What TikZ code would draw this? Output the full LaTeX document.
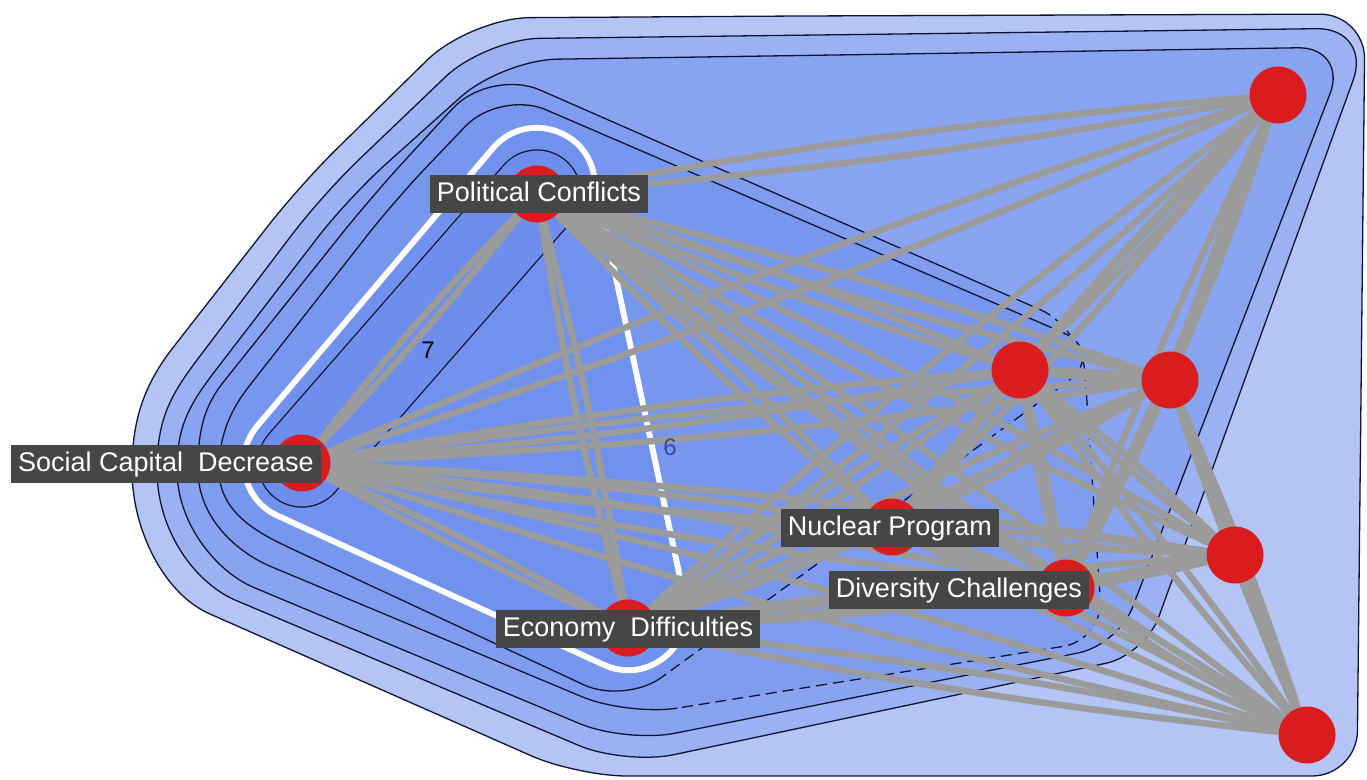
\documentclass[tikz,border=0pt]{standalone}
\usepackage{fontspec}
\setmainfont{Liberation Sans}
\usetikzlibrary{calc}
\pgfdeclarelayer{bg}
\pgfdeclarelayer{edgelayer}
\pgfsetlayers{bg,edgelayer,main}
\definecolor{cA}{HTML}{B4C5F5}
\definecolor{cB}{HTML}{9BB1F2}
\definecolor{cC}{HTML}{88A3F0}
\definecolor{cD}{HTML}{7F9CEF}
\definecolor{cE}{HTML}{7796EE}
\definecolor{cF}{HTML}{7191EE}
\definecolor{cG}{HTML}{6D8EED}
\definecolor{edgegray}{HTML}{9B9B9B}
\definecolor{nodered}{HTML}{DA1C1F}
\definecolor{lblbg}{HTML}{464646}
\definecolor{contourline}{HTML}{0E1433}
\definecolor{numblue}{HTML}{3A4A9A}
% rounded corner at vertex #2 between neighbours #1 and #3, cut distance #4
\newcommand{\cornerto}[4]{-- ($(#2)!#4!(#1)$) .. controls ($(#2)!0.45*#4!(#1)$) and ($(#2)!0.45*#4!(#3)$) .. ($(#2)!#4!(#3)$)}
\begin{document}
\begin{tikzpicture}[x=1pt,y=-1pt,
  vertex/.style={circle,fill=nodered,minimum size=57pt,inner sep=0pt},
  lbl/.style={fill=lblbg,text=white,font=\fontsize{27}{30}\selectfont,inner xsep=7pt,inner ysep=6pt,text height=20pt,text depth=6pt},
  link/.style={draw=edgegray,line width=6.5pt},
  hull/.style={draw=contourline,line width=1.3pt},
  dashhull/.style={hull,dash pattern=on 11pt off 6pt},
  num/.style={font=\fontsize{24}{26}\selectfont,inner sep=0pt}
]
\useasboundingbox (0,0) rectangle (1367,779);

% nodes
\node[vertex] (pc) at (537,194) {};
\node[vertex] (scd) at (302,463) {};
\node[vertex] (ed) at (628,628) {};
\node[vertex] (np) at (892,527) {};
\node[vertex] (dc) at (1066,588) {};
\node[vertex] (n6) at (1020,370) {};
\node[vertex] (n7) at (1170,380) {};
\node[vertex] (n8) at (1278,95) {};
\node[vertex] (n9) at (1235,555) {};
\node[vertex] (n10) at (1307,735) {};

\node[lbl] (pcl) at (539,194) {Political Conflicts};
\node[lbl] (scdl) at (166,464) {Social Capital\ \ Decrease};
\node[lbl] (npl) at (890,528) {Nuclear Program};
\node[lbl] (dcl) at (959,590) {Diversity Challenges};
\node[lbl] (edl) at (628,629) {Economy\ \ Difficulties};

\node[num,text=numblue] (lab6) at (670,447) {6};

\begin{pgfonlayer}{bg}
\fill[white] (0,0) rectangle (1367,779);
% contour 1
\draw[hull,fill=cA] (800,16)
  \cornerto{800,16}{1365,14}{1357,776}{45pt}
  \cornerto{1365,14}{1357,776}{577,776}{45pt}
  \cornerto{1357,776}{577,776}{210,614}{50pt}
  -- (210,614) .. controls (164,594) and (132,530) .. (132,470)
  .. controls (132,420) and (144,384) .. (175,345)
  \cornerto{175,345}{300,185}{470,18}{50pt}
  \cornerto{300,185}{470,18}{800,16}{60pt}
  -- cycle;
% contour 2
\draw[hull,fill=cB] (900,34)
  \cornerto{900,34}{1372,28}{1145,655}{55pt}
  \cornerto{1372,28}{1145,655}{625,765}{40pt}
  \cornerto{1145,655}{625,765}{235,600}{50pt}
  -- (235,600) .. controls (194,582) and (157,530) .. (157,470)
  .. controls (157,420) and (170,396) .. (197,360)
  \cornerto{197,360}{322,195}{485,39}{50pt}
  \cornerto{322,195}{485,39}{900,34}{55pt}
  -- cycle;
% contour 3
\draw[hull,fill=cC] (900,54)
  \cornerto{900,54}{1348,47}{1118,645}{50pt}
  \cornerto{1348,47}{1118,645}{626,743}{40pt}
  \cornerto{1118,645}{626,743}{255,588}{50pt}
  -- (255,588) .. controls (218,573) and (177,525) .. (177,470)
  .. controls (177,428) and (188,407) .. (212,375)
  \cornerto{212,375}{348,198}{502,60}{50pt}
  \cornerto{348,198}{502,60}{900,54}{55pt}
  -- cycle;
% contour 4
\fill[cD] (786,198)
  \cornerto{786,198}{1082,328}{1103,640}{45pt}
  \cornerto{1082,328}{1103,640}{628,716}{40pt}
  \cornerto{1103,640}{628,716}{272,567}{50pt}
  -- (272,567) .. controls (240,554) and (198,520) .. (198,470)
  .. controls (198,432) and (203,407) .. (225,380)
  \cornerto{225,380}{372,196}{490,68}{50pt}
  \cornerto{372,196}{490,68}{786,198}{55pt}
  -- cycle;
\draw[hull] ($(628,716)!50pt!(1103,640)$)
  \cornerto{1103,640}{628,716}{272,567}{50pt}
  -- (272,567) .. controls (240,554) and (198,520) .. (198,470)
  .. controls (198,432) and (203,407) .. (225,380)
  \cornerto{225,380}{372,196}{490,68}{50pt}
  \cornerto{372,196}{490,68}{786,198}{55pt}
  -- ($(1082,328)!45pt!(786,198)$);
\draw[dashhull] ($(1082,328)!45pt!(786,198)$)
  \cornerto{786,198}{1082,328}{1103,640}{45pt}
  \cornerto{1082,328}{1103,640}{628,716}{40pt}
  -- ($(628,716)!50pt!(1103,640)$);
% contour 5
\fill[cE] (800,219)
  \cornerto{800,219}{1108,352}{625,704}{50pt}
  \cornerto{1108,352}{625,704}{290,548}{45pt}
  -- (290,548) .. controls (263,535) and (219,515) .. (219,470)
  .. controls (219,435) and (231,409) .. (250,385)
  \cornerto{250,385}{395,200}{500,90}{45pt}
  \cornerto{395,200}{500,90}{800,219}{50pt}
  -- cycle;
\draw[hull] ($(625,704)!45pt!(1108,352)$)
  \cornerto{1108,352}{625,704}{290,548}{45pt}
  -- (290,548) .. controls (263,535) and (219,515) .. (219,470)
  .. controls (219,435) and (231,409) .. (250,385)
  \cornerto{250,385}{395,200}{500,90}{45pt}
  \cornerto{395,200}{500,90}{800,219}{50pt}
  -- ($(1108,352)!50pt!(800,219)$);
\draw[dashhull] ($(1108,352)!50pt!(800,219)$)
  \cornerto{800,219}{1108,352}{625,704}{50pt}
  -- ($(625,704)!45pt!(1108,352)$);
% contour 6 (white)
\coordinate (w1) at (537,186);
\coordinate (w2) at (302,463);
\coordinate (w3) at (628,612);
\draw[white,line width=122pt,line join=round] (w1) -- (w2) -- (w3) -- cycle;
\draw[cF,line width=110pt,line join=round] (w1) -- (w2) -- (w3) -- cycle;
\fill[cF] (w1) -- (w2) -- (w3) -- cycle;
% contour 7
\coordinate (k1) at (537,194);
\coordinate (k2) at (302,463);
\draw[contourline,line width=89.3pt,line cap=round] (k1) -- (k2);
\draw[cG,line width=86.7pt,line cap=round] (k1) -- (k2);
\node[num,text=black] (lab7) at (428,350) {7};
\end{pgfonlayer}

\begin{pgfonlayer}{edgelayer}
\foreach \u/\v in {pc/scd,pc/ed,pc/np,pc/dc,pc/n6,pc/n7,pc/n8,pc/n9,pc/n10,
  scd/ed,scd/np,scd/dc,scd/n6,scd/n7,scd/n8,scd/n9,scd/n10,
  ed/np,ed/dc,ed/n6,ed/n7,ed/n8,ed/n9,ed/n10,
  np/dc,np/n6,np/n7,np/n8,np/n9,np/n10,
  dc/n6,dc/n7,dc/n8,dc/n9,dc/n10,
  n6/n7,n6/n8,n6/n9,n6/n10,
  n7/n8,n7/n9,n7/n10,
  n9/n10}{
  \draw[link] (\u) to[bend left=2.6] (\v);
  \draw[link] (\u) to[bend right=2.6] (\v);
}
\end{pgfonlayer}
\end{tikzpicture}
\end{document}
